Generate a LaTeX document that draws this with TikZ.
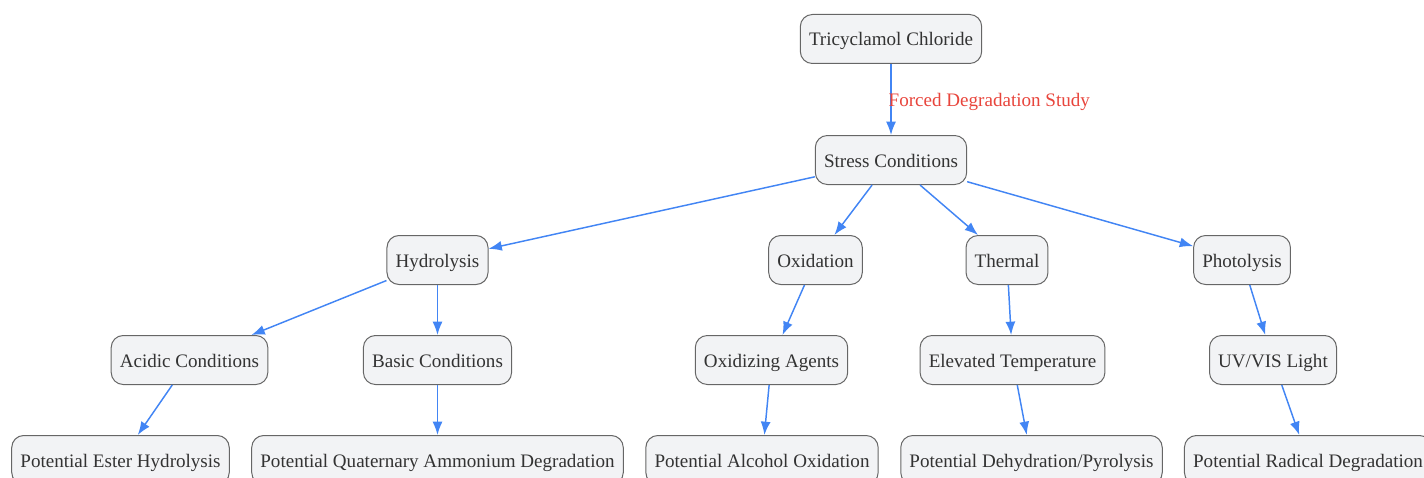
\documentclass[tikz,border=0pt]{standalone}
\usepackage{fontspec}
\setmainfont{Liberation Serif}
\usetikzlibrary{graphs, arrows.meta}
\definecolor{boxfill}{HTML}{F2F3F5}
\definecolor{boxline}{HTML}{666666}
\definecolor{edgeblue}{HTML}{4285F4}
\definecolor{lblred}{HTML}{E8453C}
\definecolor{txtgray}{HTML}{333333}

\begin{document}
\begin{tikzpicture}[x=0.75pt,y=-0.75pt,
        stage/.style={draw=boxline,fill=boxfill,rounded corners=9pt,line width=0.75pt,
            minimum height=36.75pt,inner xsep=6.5pt,text height=11.5pt,text depth=1pt,
            text=txtgray,font=\fontsize{14.3}{17}\selectfont},
        lbl/.style={anchor=west,inner sep=0pt,xshift=-2.25pt,yshift=-2pt,text=lblred,font=\fontsize{14.3}{17}\selectfont},
        >={Latex[length=10pt,width=7.5pt]}]
        \useasboundingbox (0,0) rectangle (1424,478);

        \node[stage] (tri)    at (891,39)    {Tricyclamol Chloride};
        \node[stage] (stress) at (891,160)   {Stress Conditions};

        \node[stage] (hydro)  at (437.5,260) {Hydrolysis};
        \node[stage] (oxid)   at (815.5,260) {Oxidation};
        \node[stage] (therm)  at (1007,260)  {Thermal};
        \node[stage] (photo)  at (1242,260)  {Photolysis};

        \node[stage] (acid)   at (189.5,360) {Acidic Conditions};
        \node[stage] (basic)  at (437.5,360) {Basic Conditions};
        \node[stage] (agents) at (771.5,360) {Oxidizing Agents};
        \node[stage] (elev)   at (1012.5,360) {Elevated Temperature};
        \node[stage] (uv)     at (1273,360)  {UV/VIS Light};

        \node[stage] (ester)   at (120.5,460) {Potential Ester Hydrolysis};
        \node[stage] (quat)    at (437.5,460) {Potential Quaternary Ammonium Degradation};
        \node[stage] (alcohol) at (762,460)   {Potential Alcohol Oxidation};
        \node[stage] (dehyd)   at (1031.5,460) {Potential Dehydration/Pyrolysis};
        \node[stage] (radical) at (1308,460)  {Potential Radical Degradation};

        \graph[use existing nodes, edges={draw=edgeblue,line width=1.1pt}] {
            tri ->[edge node={node[lbl]{Forced Degradation Study}}] stress;
            stress -> {hydro, oxid, therm, photo};
            hydro -> {acid, basic};
            acid -> ester;
            basic -> quat;
            oxid -> agents -> alcohol;
            therm -> elev -> dehyd;
            photo -> uv -> radical;
        };

    \end{tikzpicture}
\end{document}
